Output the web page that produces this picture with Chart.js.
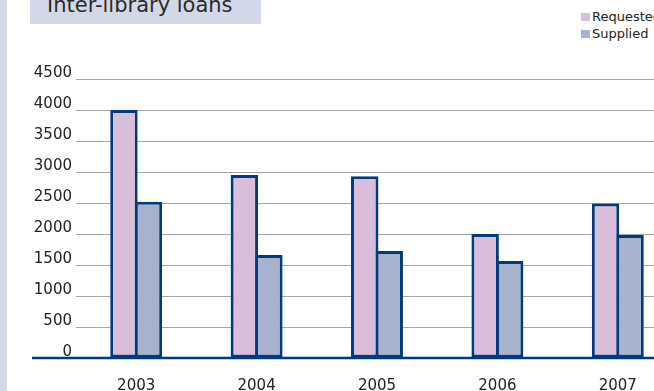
<!DOCTYPE html>
<html>
<head>
<meta charset="utf-8">
<script src="https://cdn.jsdelivr.net/npm/chart.js@4"></script>
<style>
  html, body { margin: 0; padding: 0; background: #fff; overflow: hidden; }
  body { width: 654px; height: 391px; position: relative; font-family: "DejaVu Sans", sans-serif; }
  .strip { position: absolute; left: 0; top: 0; width: 7px; height: 391px; background: #d3d8e8; }
  .title-box { position: absolute; left: 30px; top: 0; width: 231px; height: 24px; background: #d3d8e8; overflow: hidden; }
  .title-box span { position: absolute; left: 17px; top: -5px; font-size: 21px; line-height: 21px; color: #2b2b2b; white-space: nowrap; }
  .legend { position: absolute; left: 581px; top: 0; width: 120px; height: 45px; }
  .legend .item { position: absolute; left: 0; white-space: nowrap; font-size: 13px; line-height: 13px; color: #222; }
  .legend .box { position: absolute; left: 0; width: 9px; height: 8px; }
  .legend .txt { position: absolute; left: 11px; }
  .chart-wrap { position: absolute; left: 0; top: 0; width: 680px; height: 391px; }
</style>
</head>
<body>
<div class="strip"></div>
<div class="title-box"><span>Inter-library loans</span></div>
<div class="legend" id="legend"></div>
<div class="chart-wrap"><canvas id="loans-chart"></canvas></div>

<script>
// ======== DONNÉES ========
const years = ['2003', '2004', '2005', '2006', '2007'];
const requested = [4000, 2950, 2930, 2000, 2490];
const supplied = [2520, 1660, 1725, 1565, 1985];
const yTicks = [0, 500, 1000, 1500, 2000, 2500, 3000, 3500, 4000, 4500];

const seriesNames = ['Requested', 'Supplied'];
const seriesColors = ['#d9bedb', '#a8b2cf'];
const edgeColor = '#003b7c';

// ======== LÉGENDE (HTML) ========
const legend = document.getElementById('legend');
seriesNames.forEach((name, i) => {
    const top = 13 + i * 17;
    const box = document.createElement('div');
    box.className = 'box';
    box.style.top = top + 'px';
    box.style.background = seriesColors[i];
    const txt = document.createElement('div');
    txt.className = 'item txt';
    txt.style.top = (top - 3) + 'px';
    txt.textContent = name;
    legend.appendChild(box);
    legend.appendChild(txt);
});

// ligne de base (axe x) qui déborde à gauche du graphique
const baselinePlugin = {
    id: 'baseline',
    afterDatasetsDraw(chart) {
        const y = chart.scales.y.getPixelForValue(0);
        const ctx = chart.ctx;
        ctx.save();
        ctx.strokeStyle = edgeColor;
        ctx.lineWidth = 2.5;
        ctx.beginPath();
        ctx.moveTo(32, y);
        ctx.lineTo(chart.width, y);
        ctx.stroke();
        ctx.restore();
    }
};

const tickFont = { family: '"DejaVu Sans", sans-serif', size: 15 };

new Chart(document.getElementById('loans-chart'), {
    type: 'bar',
    data: {
        labels: years,
        datasets: [requested, supplied].map((values, i) => ({
            label: seriesNames[i],
            data: values,
            backgroundColor: seriesColors[i],
            borderColor: edgeColor,
            borderWidth: 3,
            borderSkipped: false,
            categoryPercentage: 0.407,
            barPercentage: 1.12
        }))
    },
    options: {
        responsive: true,
        maintainAspectRatio: false,
        animation: false,
        layout: { padding: { top: 79, right: 2, bottom: 0, left: 0 } },
        plugins: {
            legend: { display: false },
            tooltip: { enabled: false }
        },
        scales: {
            x: {
                grid: { display: false, drawTicks: false },
                border: { display: false },
                ticks: { font: tickFont, color: '#222', padding: 19, maxRotation: 0 },
                afterFit(scale) { scale.height = 33; }
            },
            y: {
                min: 0,
                max: 4500,
                afterBuildTicks(scale) { scale.ticks = yTicks.map(v => ({ value: v })); },
                grid: { color: '#a5a7ad', lineWidth: 1, drawTicks: false },
                border: { display: false },
                ticks: {
                    font: tickFont, color: '#222', padding: 4, labelOffset: -6,
                    callback: (value) => String(value)
                },
                afterFit(scale) { scale.width = 76; }
            }
        }
    },
    plugins: [baselinePlugin]
});
</script>
</body>
</html>
